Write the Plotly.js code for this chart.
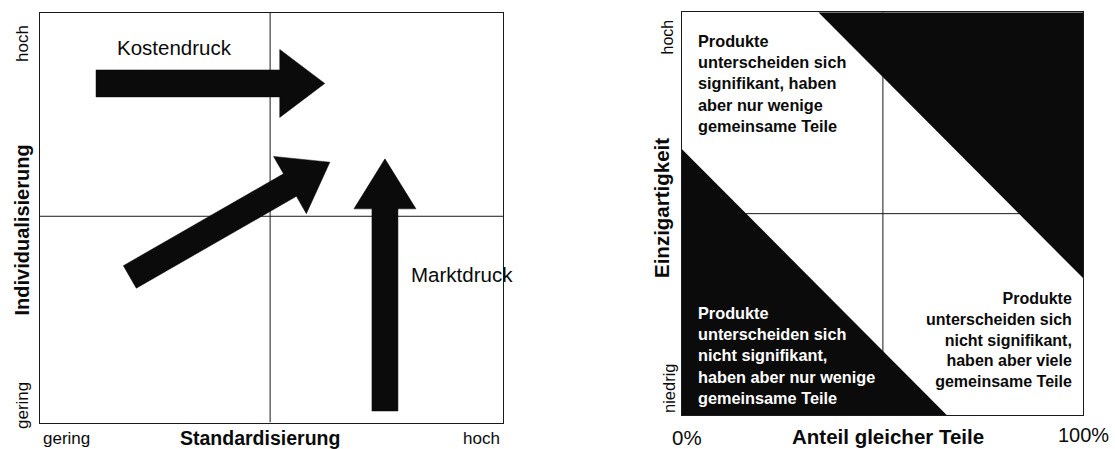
<!DOCTYPE html>
<html>
<head>
<meta charset="utf-8">
<script src="https://cdn.plot.ly/plotly-3.0.1.min.js"></script>
<style>html,body{margin:0;padding:0;background:#fff;}#chart{width:1115px;height:449px;}</style>
</head>
<body>
<div id="chart"></div>
<script>
// ---------- data ----------
const leftXTickLabels = ['gering', 'hoch'];
const leftYTickLabels = ['gering', 'hoch'];
const leftXTitle = 'Standardisierung';
const leftYTitle = 'Individualisierung';

const arrowLabels = ['Kostendruck', '', 'Marktdruck'];
const arrowStartX = [0.121, 0.194, 0.745];
const arrowStartY = [0.827, 0.355, 0.028];
const arrowEndX   = [0.615, 0.626, 0.745];
const arrowEndY   = [0.827, 0.635, 0.643];

const rightXTickLabels = ['0%', '100%'];
const rightYTickLabels = ['niedrig', 'hoch'];
const rightXTitle = 'Anteil gleicher Teile';
const rightYTitle = 'Einzigartigkeit';

const triTopX = [0.34, 1, 1];
const triTopY = [1, 1, 0.34];
const triBotX = [0, 0, 0.66];
const triBotY = [0.66, 0, 0];

const quadrantTexts = [
  'Produkte<br>unterscheiden sich<br>signifikant, haben<br>aber nur wenige<br>gemeinsame Teile',
  'Produkte<br>unterscheiden sich<br>nicht signifikant,<br>haben aber nur wenige<br>gemeinsame Teile',
  'Produkte<br>unterscheiden sich<br>nicht signifikant,<br>haben aber viele<br>gemeinsame Teile'
];

// ---------- layout geometry (pixels) ----------
const W = 1115, H = 449;
const LB = {x0: 40, x1: 503, y0: 12.5, y1: 422.5};
const RB = {x0: 682, x1: 1083, y0: 12.3, y1: 415};
const FONT = 'Liberation Sans, Arial, Helvetica, sans-serif';
const INK = '#0b0b0b';

// arrow styles (px)
const shaftW = [27, 26, 26];
const headW  = [68, 66, 62];
const headL  = [45, 46, 50];

function toPxL(x, y) { return [LB.x0 + x * (LB.x1 - LB.x0), LB.y1 - y * (LB.y1 - LB.y0)]; }
function fromPxL(px, py) { return [(px - LB.x0) / (LB.x1 - LB.x0), (LB.y1 - py) / (LB.y1 - LB.y0)]; }

function arrowPolygon(i) {
  const T = toPxL(arrowStartX[i], arrowStartY[i]);
  const P = toPxL(arrowEndX[i], arrowEndY[i]);
  const dx = P[0] - T[0], dy = P[1] - T[1];
  const len = Math.hypot(dx, dy);
  const ux = dx / len, uy = dy / len;
  const nx = -uy, ny = ux;
  const B = [P[0] - ux * headL[i], P[1] - uy * headL[i]];
  const s = shaftW[i] / 2, h = headW[i] / 2;
  const pts = [
    [T[0] + nx * s, T[1] + ny * s],
    [B[0] + nx * s, B[1] + ny * s],
    [B[0] + nx * h, B[1] + ny * h],
    P,
    [B[0] - nx * h, B[1] - ny * h],
    [B[0] - nx * s, B[1] - ny * s],
    [T[0] - nx * s, T[1] - ny * s],
    [T[0] + nx * s, T[1] + ny * s]
  ].map(p => fromPxL(p[0], p[1]));
  return {x: pts.map(p => p[0]), y: pts.map(p => p[1])};
}

const traces = [];
// right panel triangles
traces.push({type: 'scatter', mode: 'lines', x: triTopX.concat([triTopX[0]]), y: triTopY.concat([triTopY[0]]),
  fill: 'toself', fillcolor: INK, line: {width: 0, color: INK}, xaxis: 'x2', yaxis: 'y2', hoverinfo: 'skip'});
traces.push({type: 'scatter', mode: 'lines', x: triBotX.concat([triBotX[0]]), y: triBotY.concat([triBotY[0]]),
  fill: 'toself', fillcolor: INK, line: {width: 0, color: INK}, xaxis: 'x2', yaxis: 'y2', hoverinfo: 'skip'});
// left panel arrows
for (let i = 0; i < arrowStartX.length; i++) {
  const poly = arrowPolygon(i);
  traces.push({type: 'scatter', mode: 'lines', x: poly.x, y: poly.y, fill: 'toself', fillcolor: INK,
    line: {width: 0.5, color: INK}, xaxis: 'x', yaxis: 'y', hoverinfo: 'skip'});
}

function pxAnn(text, px, py, opts) {
  return Object.assign({text: text, x: px / W, y: 1 - py / H, xref: 'paper', yref: 'paper',
    xanchor: 'center', yanchor: 'middle', showarrow: false,
    font: {family: FONT, size: 17, color: INK}}, opts || {});
}

const annotations = [
  // left panel x ticks
  pxAnn(leftXTickLabels[0], 41, 438.5, {xanchor: 'left'}),
  pxAnn(leftXTickLabels[1], 502, 438.5, {xanchor: 'right'}),
  // left panel y ticks
  pxAnn(leftYTickLabels[1], 22.5, 43.5, {textangle: -90}),
  pxAnn(leftYTickLabels[0], 22, 406, {textangle: -90}),
  // left titles
  pxAnn(leftXTitle, 260, 437.5, {font: {family: FONT, size: 19.5, color: INK, weight: 'bold'}}),
  pxAnn(leftYTitle, 21.5, 230, {textangle: -90, font: {family: FONT, size: 20, color: INK, weight: 'bold'}}),
  // arrow labels
  pxAnn(arrowLabels[0], 174.5, 48, {font: {family: FONT, size: 20.5, color: INK}}),
  pxAnn(arrowLabels[2], 462, 274.5, {font: {family: FONT, size: 20.5, color: INK}}),
  // right panel x ticks
  pxAnn(rightXTickLabels[0], 687, 437.5, {font: {family: FONT, size: 20.5, color: INK}}),
  pxAnn(rightXTickLabels[1], 1083, 435, {font: {family: FONT, size: 20, color: INK}}),
  // right panel y ticks
  pxAnn(rightYTickLabels[1], 667, 37.5, {textangle: -90, font: {family: FONT, size: 16, color: INK}}),
  pxAnn(rightYTickLabels[0], 669, 388, {textangle: -90, font: {family: FONT, size: 16.5, color: INK}}),
  // right titles
  pxAnn(rightXTitle, 887.5, 436.5, {font: {family: FONT, size: 20.5, color: INK, weight: 'bold'}}),
  pxAnn(rightYTitle, 661, 208, {textangle: -90, font: {family: FONT, size: 20.5, color: INK, weight: 'bold'}}),
  // quadrant texts
  pxAnn(quadrantTexts[0], 696, 83.4, {xanchor: 'left', align: 'left', font: {family: FONT, size: 16.3, color: INK, weight: 'bold'}}),
  pxAnn(quadrantTexts[1], 696, 355.7, {xanchor: 'left', align: 'left', font: {family: FONT, size: 16.3, color: '#ffffff', weight: 'bold'}}),
  pxAnn(quadrantTexts[2], 1073.5, 340, {xanchor: 'right', align: 'right', font: {family: FONT, size: 16, color: INK, weight: 'bold'}})
];

const lineStyle = {color: '#1a1a1a', width: 1};
const shapes = [
  {type: 'line', xref: 'x', yref: 'y', x0: 0.497, x1: 0.497, y0: 0, y1: 1, line: lineStyle, layer: 'below'},
  {type: 'line', xref: 'x', yref: 'y', x0: 0, x1: 1, y0: 0.503, y1: 0.503, line: lineStyle, layer: 'below'},
  {type: 'line', xref: 'x2', yref: 'y2', x0: 0.501, x1: 0.501, y0: 0, y1: 1, line: lineStyle, layer: 'below'},
  {type: 'line', xref: 'x2', yref: 'y2', x0: 0, x1: 1, y0: 0.5, y1: 0.5, line: lineStyle, layer: 'below'}
];

function axis(domain, anchor) {
  return {domain: domain, anchor: anchor, range: [0, 1], showgrid: false, zeroline: false,
    showticklabels: false, ticks: '', showline: true, mirror: true, linecolor: '#1a1a1a', linewidth: 1,
    fixedrange: true};
}

const layout = {
  width: W, height: H,
  margin: {l: 0, r: 0, t: 0, b: 0, pad: 0},
  paper_bgcolor: '#ffffff', plot_bgcolor: '#ffffff',
  showlegend: false, hovermode: false,
  xaxis: axis([LB.x0 / W, LB.x1 / W], 'y'),
  yaxis: axis([1 - LB.y1 / H, 1 - LB.y0 / H], 'x'),
  xaxis2: axis([RB.x0 / W, RB.x1 / W], 'y2'),
  yaxis2: axis([1 - RB.y1 / H, 1 - RB.y0 / H], 'x2'),
  annotations: annotations,
  shapes: shapes,
  font: {family: FONT, color: INK}
};

Plotly.newPlot('chart', traces, layout, {staticPlot: true, displayModeBar: false});
</script>
</body>
</html>
